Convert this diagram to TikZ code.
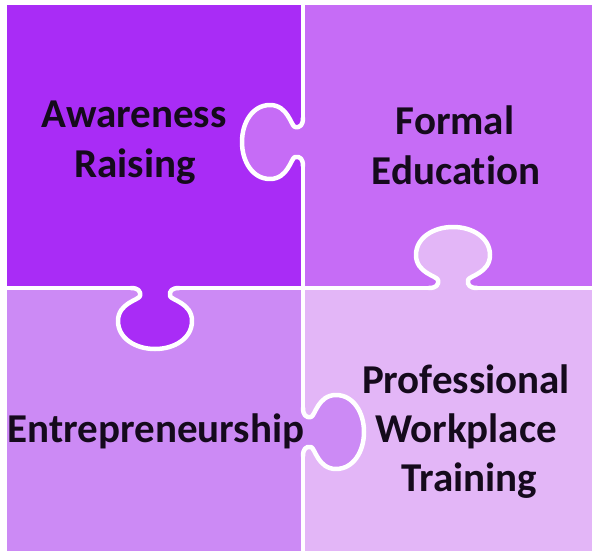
\documentclass[tikz,border=0pt]{standalone}
\usepackage{fontspec}
\setmainfont{Carlito}[Ligatures=NoCommon]
\definecolor{pTL}{HTML}{A92CF6}
\definecolor{pTR}{HTML}{C66CF6}
\definecolor{pBL}{HTML}{CC8AF5}
\definecolor{pBR}{HTML}{E3B6F7}
\definecolor{ink}{HTML}{150A1C}
\begin{document}
\begin{tikzpicture}[x=1pt,y=-1pt,
  seam/.style={white, line width=4.5pt, line cap=round, line join=round},
  label/.style={font=\fontsize{41}{48}\selectfont\bfseries, text=ink, anchor=base, inner sep=0pt},
  knob/.pic={
    \fill[#1] (-24,-3) -- (-24,0) .. controls (-17,0) and (-14,3) .. (-15,8)
      .. controls (-16,12) and (-37,15) .. (-37,33)
      .. controls (-37,50) and (-20,61) .. (0,61)
      .. controls (20,61) and (37,50) .. (37,33)
      .. controls (37,15) and (16,12) .. (15,8)
      .. controls (14,3) and (17,0) .. (24,0) -- (24,-3) -- cycle;
    \draw[seam] (-24,0) .. controls (-17,0) and (-14,3) .. (-15,8)
      .. controls (-16,12) and (-37,15) .. (-37,33)
      .. controls (-37,50) and (-20,61) .. (0,61)
      .. controls (20,61) and (37,50) .. (37,33)
      .. controls (37,15) and (16,12) .. (15,8)
      .. controls (14,3) and (17,0) .. (24,0);
  }]
\useasboundingbox[fill=white] (0,0) rectangle (592,551);
% pieces
\fill[pTL] (7,5) rectangle (303,288);
\fill[pTR] (303,5) rectangle (592,288);
\fill[pBL] (7,288) rectangle (303,551);
\fill[pBR] (303,288) rectangle (592,551);
% knobs
\begin{scope}[shift={(303,142)}, x={(0pt,-1pt)}, y={(-1pt,0pt)}]
  \pic {knob=pTR};
\end{scope}
\begin{scope}[shift={(155,288)}, x={(1pt,0pt)}, y={(0pt,-1pt)}]
  \pic {knob=pTL};
\end{scope}
\begin{scope}[shift={(453,288)}, x={(1pt,0pt)}, y={(0pt,1pt)}]
  \pic {knob=pBR};
\end{scope}
\begin{scope}[shift={(303,432)}, x={(0pt,-1pt)}, y={(1pt,0pt)}]
  \pic {knob=pBL};
\end{scope}
% seams
\coordinate (h0) at (7,288);
\coordinate (h1) at (131,288);
\coordinate (h2) at (179,288);
\coordinate (h3) at (429,288);
\coordinate (h4) at (477,288);
\coordinate (h5) at (592,288);
\coordinate (v0) at (303,5);
\coordinate (v1) at (303,118);
\coordinate (v2) at (303,166);
\coordinate (v3) at (303,408);
\coordinate (v4) at (303,456);
\coordinate (v5) at (303,551);
\draw[seam] (h0) -- (h1) (h2) -- (h3) (h4) -- (h5);
\draw[seam] (v0) -- (v1) (v2) -- (v3) (v4) -- (v5);
% labels
\node[label] (aw) at (134,127) {Awareness};
\node[label] (ra) at (135,177) {Raising};
\node[label] (fo) at (455,135) {Formal};
\node[label] (ed) at (456,184) {Education};
\node[label] (en) at (156,442) {Entrepreneurship};
\node[label] (pr) at (466,393) {Professional};
\node[label] (wo) at (466,442) {Workplace};
\node[label] (tr) at (469,491) {Training};
\end{tikzpicture}
\end{document}
